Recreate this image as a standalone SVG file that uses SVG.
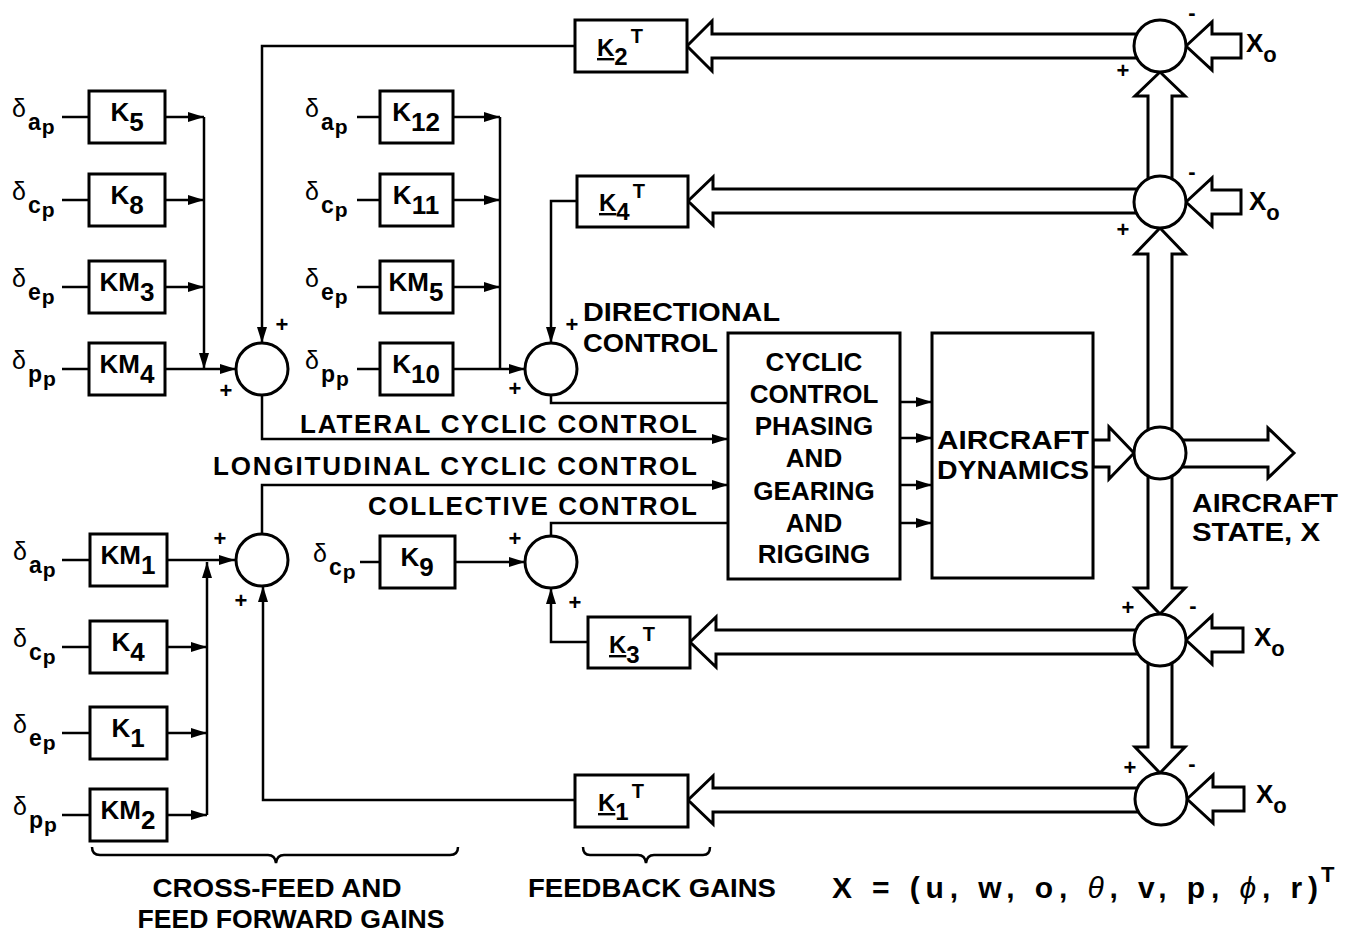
<svg xmlns="http://www.w3.org/2000/svg" width="1355" height="934" viewBox="0 0 1355 934">
<defs>
<marker id="ah" viewBox="0 0 16 10" refX="16" refY="5" markerWidth="16" markerHeight="10" markerUnits="userSpaceOnUse" orient="auto"><path d="M0,0 L16,5 L0,10 z" fill="#000"/></marker>
<style>
text{font-family:"Liberation Sans",Arial,sans-serif;fill:#000}
.b{font-weight:bold}
.lbl{font-size:26px;font-weight:bold}
.k{font-size:26px;font-weight:bold;text-anchor:middle}
.kt{font-size:24px;font-weight:bold}
.d{font-size:25px}
.sg{font-size:22px;font-weight:bold;text-anchor:middle}
.box{fill:#fff;stroke:#000;stroke-width:3}
.sum{fill:#fff;stroke:#000;stroke-width:3}
.ln{fill:none;stroke:#000;stroke-width:2.5}
.ar{fill:none;stroke:#000;stroke-width:2.5;marker-end:url(#ah)}
.fat{fill:#fff;stroke:#000;stroke-width:3;stroke-linejoin:miter}
.u{text-decoration:underline}
</style>
</defs>
<rect width="1355" height="934" fill="#fff"/>

<g id="connectors">
<path class="ln" d="M62,117H89M62,200H89M62,287H89M62,369H89"/>
<path class="ln" d="M357,117H380M357,200H380M357,287H380M357,369H380"/>
<path class="ln" d="M62,560H90M62,647H90M62,733H90M62,815H90"/>
<path class="ln" d="M360,562H380"/>
<path class="ar" d="M165,117H204"/>
<path class="ar" d="M165,200H204"/>
<path class="ar" d="M165,287H204"/>
<path class="ar" d="M204,117V369"/>
<path class="ar" d="M165,369H236"/>
<path class="ar" d="M453,117H500"/>
<path class="ar" d="M453,200H500"/>
<path class="ar" d="M453,287H500"/>
<path class="ln" d="M500,117V369"/>
<path class="ar" d="M453,369H525"/>
<path class="ar" d="M575,46H262V343"/>
<path class="ar" d="M577,201H551V343"/>
<path class="ln" d="M551,395V403H728"/>
<path class="ar" d="M262,395V439H728"/>
<path class="ar" d="M262,534V485H728"/>
<path class="ln" d="M551,536V523H728"/>
<path class="ar" d="M900,402H932"/>
<path class="ar" d="M900,438H932"/>
<path class="ar" d="M900,485H932"/>
<path class="ar" d="M900,523H932"/>
<path class="ar" d="M167,560H235"/>
<path class="ar" d="M167,647H207"/>
<path class="ar" d="M167,733H207"/>
<path class="ar" d="M167,815H207"/>
<path class="ar" d="M207,815V562"/>
<path class="ar" d="M455,562H525"/>
<path class="ar" d="M588,642H551V588"/>
<path class="ar" d="M575,800H263V586"/>
<polygon class="fat" points="687,46 712,21 712,34 1160,34 1160,58 712,58 712,71"/>
<polygon class="fat" points="688,201 713,177 713,189 1160,189 1160,213 713,213 713,225"/>
<polygon class="fat" points="690,642 716,617 716,630 1160,630 1160,654 716,654 716,667"/>
<polygon class="fat" points="688,800 713,776 713,788 1160,788 1160,812 713,812 713,824"/>
<polygon class="fat" points="1160,72 1185,96 1172,96 1172,202 1148,202 1148,96 1135,96"/>
<polygon class="fat" points="1160,228 1185,254 1172,254 1172,453 1148,453 1148,254 1135,254"/>
<polygon class="fat" points="1160,614 1185,588 1172,588 1172,453 1148,453 1148,588 1135,588"/>
<polygon class="fat" points="1160,773 1185,747 1172,747 1172,640 1148,640 1148,747 1135,747"/>
<polygon class="fat" points="1134,453 1109,427 1109,440 1093,440 1093,467 1109,467 1109,479"/>
<polygon class="fat" points="1294,453 1268,428 1268,440 1160,440 1160,467 1268,467 1268,478"/>
<polygon class="fat" points="1186,46 1212,22 1212,34 1241,34 1241,58 1212,58 1212,70"/>
<polygon class="fat" points="1186,202 1212,178 1212,190 1241,190 1241,214 1212,214 1212,226"/>
<polygon class="fat" points="1186,640 1212,616 1212,628 1243,628 1243,652 1212,652 1212,664"/>
<polygon class="fat" points="1187,799 1213,775 1213,787 1244,787 1244,811 1213,811 1213,823"/>
</g>

<g id="K5"><rect class="box" x="89" y="91" width="76" height="52"/><text class="k" x="127" y="121">K<tspan dy="10">5</tspan></text></g>
<g id="K8"><rect class="box" x="89" y="174" width="76" height="52"/><text class="k" x="127" y="204">K<tspan dy="10">8</tspan></text></g>
<g id="KM3"><rect class="box" x="89" y="261" width="76" height="52"/><text class="k" x="127" y="291">KM<tspan dy="10">3</tspan></text></g>
<g id="KM4"><rect class="box" x="89" y="343" width="76" height="52"/><text class="k" x="127" y="373">KM<tspan dy="10">4</tspan></text></g>
<g id="K12"><rect class="box" x="380" y="91" width="73" height="52"/><text class="k" x="416" y="121">K<tspan dy="10">12</tspan></text></g>
<g id="K11"><rect class="box" x="380" y="174" width="73" height="52"/><text class="k" x="416" y="204">K<tspan dy="10">11</tspan></text></g>
<g id="KM5"><rect class="box" x="380" y="261" width="73" height="52"/><text class="k" x="416" y="291">KM<tspan dy="10">5</tspan></text></g>
<g id="K10"><rect class="box" x="380" y="343" width="73" height="52"/><text class="k" x="416" y="373">K<tspan dy="10">10</tspan></text></g>
<g id="KM1"><rect class="box" x="90" y="534" width="77" height="52"/><text class="k" x="128" y="564">KM<tspan dy="10">1</tspan></text></g>
<g id="K4"><rect class="box" x="90" y="621" width="77" height="52"/><text class="k" x="128" y="651">K<tspan dy="10">4</tspan></text></g>
<g id="K1"><rect class="box" x="90" y="707" width="77" height="52"/><text class="k" x="128" y="737">K<tspan dy="10">1</tspan></text></g>
<g id="KM2"><rect class="box" x="90" y="789" width="77" height="52"/><text class="k" x="128" y="819">KM<tspan dy="10">2</tspan></text></g>
<g id="K9"><rect class="box" x="380" y="536" width="75" height="52"/><text class="k" x="417" y="566">K<tspan dy="10">9</tspan></text></g>

<g id="K2T"><rect class="box" x="575" y="20" width="112" height="52"/><text class="kt" x="597" y="56"><tspan class="u">K</tspan><tspan dy="9">2</tspan><tspan dy="-22" dx="3" font-size="20">T</tspan></text></g>
<g id="K4T"><rect class="box" x="577" y="176" width="111" height="51"/><text class="kt" x="599" y="211"><tspan class="u">K</tspan><tspan dy="9">4</tspan><tspan dy="-22" dx="3" font-size="20">T</tspan></text></g>
<g id="K3T"><rect class="box" x="588" y="617" width="102" height="51"/><text class="kt" x="609" y="653"><tspan class="u">K</tspan><tspan dy="10">3</tspan><tspan dy="-22" dx="3" font-size="20">T</tspan></text></g>
<g id="K1T"><rect class="box" x="575" y="775" width="113" height="52"/><text class="kt" x="598" y="811"><tspan class="u">K</tspan><tspan dy="9">1</tspan><tspan dy="-22" dx="3" font-size="20">T</tspan></text></g>

<g id="S1"><circle class="sum" cx="262" cy="369" r="26"/></g>
<g id="S2"><circle class="sum" cx="551" cy="369" r="26"/></g>
<g id="S3"><circle class="sum" cx="262" cy="560" r="26"/></g>
<g id="S4"><circle class="sum" cx="551" cy="562" r="26"/></g>
<g id="U1"><circle class="sum" cx="1160" cy="46" r="26"/></g>
<g id="U2"><circle class="sum" cx="1160" cy="202" r="26"/></g>
<g id="C"><circle class="sum" cx="1160" cy="453" r="26"/></g>
<g id="D1"><circle class="sum" cx="1160" cy="640" r="26"/></g>
<g id="D2"><circle class="sum" cx="1161" cy="799" r="26"/></g>

<g id="CCP"><rect class="box" x="728" y="333" width="172" height="246"/>
<text class="lbl" text-anchor="middle" x="814" y="371">CYCLIC</text>
<text class="lbl" text-anchor="middle" x="814" y="403">CONTROL</text>
<text class="lbl" text-anchor="middle" x="814" y="435">PHASING</text>
<text class="lbl" text-anchor="middle" x="814" y="467">AND</text>
<text class="lbl" text-anchor="middle" x="814" y="500">GEARING</text>
<text class="lbl" text-anchor="middle" x="814" y="532">AND</text>
<text class="lbl" text-anchor="middle" x="814" y="563">RIGGING</text></g>
<g id="AD"><rect class="box" x="932" y="333" width="161" height="245"/>
<text class="lbl" x="937" y="449" textLength="152" lengthAdjust="spacingAndGlyphs">AIRCRAFT</text>
<text class="lbl" x="937" y="479" textLength="152" lengthAdjust="spacingAndGlyphs">DYNAMICS</text></g>

<g id="inputs">
<text class="d" x="12" y="117">δ<tspan class="b" font-size="23" dx="2" dy="13">a</tspan><tspan class="b" font-size="21" dx="1" dy="4">p</tspan></text>
<text class="d" x="12" y="200">δ<tspan class="b" font-size="23" dx="2" dy="13">c</tspan><tspan class="b" font-size="21" dx="1" dy="4">p</tspan></text>
<text class="d" x="12" y="287">δ<tspan class="b" font-size="23" dx="2" dy="13">e</tspan><tspan class="b" font-size="21" dx="1" dy="4">p</tspan></text>
<text class="d" x="12" y="369">δ<tspan class="b" font-size="23" dx="2" dy="13">p</tspan><tspan class="b" font-size="21" dx="1" dy="4">p</tspan></text>
<text class="d" x="305" y="117">δ<tspan class="b" font-size="23" dx="2" dy="13">a</tspan><tspan class="b" font-size="21" dx="1" dy="4">p</tspan></text>
<text class="d" x="305" y="200">δ<tspan class="b" font-size="23" dx="2" dy="13">c</tspan><tspan class="b" font-size="21" dx="1" dy="4">p</tspan></text>
<text class="d" x="305" y="287">δ<tspan class="b" font-size="23" dx="2" dy="13">e</tspan><tspan class="b" font-size="21" dx="1" dy="4">p</tspan></text>
<text class="d" x="305" y="369">δ<tspan class="b" font-size="23" dx="2" dy="13">p</tspan><tspan class="b" font-size="21" dx="1" dy="4">p</tspan></text>
<text class="d" x="13" y="560">δ<tspan class="b" font-size="23" dx="2" dy="13">a</tspan><tspan class="b" font-size="21" dx="1" dy="4">p</tspan></text>
<text class="d" x="13" y="647">δ<tspan class="b" font-size="23" dx="2" dy="13">c</tspan><tspan class="b" font-size="21" dx="1" dy="4">p</tspan></text>
<text class="d" x="13" y="733">δ<tspan class="b" font-size="23" dx="2" dy="13">e</tspan><tspan class="b" font-size="21" dx="1" dy="4">p</tspan></text>
<text class="d" x="13" y="815">δ<tspan class="b" font-size="23" dx="2" dy="13">p</tspan><tspan class="b" font-size="21" dx="1" dy="4">p</tspan></text>
<text class="d" x="313" y="562">δ<tspan class="b" font-size="23" dx="2" dy="13">c</tspan><tspan class="b" font-size="21" dx="1" dy="4">p</tspan></text>
</g>

<g id="signs">
<text class="sg" x="282" y="332">+</text><text class="sg" x="226" y="398">+</text>
<text class="sg" x="572" y="332">+</text><text class="sg" x="515" y="396">+</text>
<text class="sg" x="220" y="546">+</text><text class="sg" x="241" y="608">+</text>
<text class="sg" x="515" y="546">+</text><text class="sg" x="575" y="610">+</text>
<text class="sg" x="1192" y="20" font-size="18">-</text><text class="sg" x="1123" y="78">+</text>
<text class="sg" x="1192" y="179">-</text><text class="sg" x="1123" y="237">+</text>
<text class="sg" x="1128" y="615">+</text><text class="sg" x="1193" y="613">-</text>
<text class="sg" x="1130" y="775">+</text><text class="sg" x="1192" y="771">-</text>
</g>

<g id="xo">
<text class="lbl" x="1246" y="52">X<tspan font-size="22" dy="10">o</tspan></text>
<text class="lbl" x="1249" y="210">X<tspan font-size="22" dy="10">o</tspan></text>
<text class="lbl" x="1254" y="646">X<tspan font-size="22" dy="10">o</tspan></text>
<text class="lbl" x="1256" y="803">X<tspan font-size="22" dy="10">o</tspan></text>
</g>

<g id="labels">
<text class="lbl" x="583" y="321" textLength="197" lengthAdjust="spacingAndGlyphs">DIRECTIONAL</text>
<text class="lbl" x="583" y="352" textLength="135" lengthAdjust="spacingAndGlyphs">CONTROL</text>
<text class="lbl" x="300" y="433" textLength="397" lengthAdjust="spacing">LATERAL CYCLIC CONTROL</text>
<text class="lbl" x="213" y="475" textLength="484" lengthAdjust="spacing">LONGITUDINAL CYCLIC CONTROL</text>
<text class="lbl" x="368" y="515" textLength="329" lengthAdjust="spacing">COLLECTIVE CONTROL</text>
<text class="lbl" x="1192" y="512" textLength="146" lengthAdjust="spacingAndGlyphs">AIRCRAFT</text>
<text class="lbl" x="1192" y="541" textLength="128" lengthAdjust="spacingAndGlyphs">STATE, X</text>
</g>

<g id="captions">
<path class="ln" d="M92,847Q92,855 100,855L268,855Q275,855 276,863Q277,855 284,855L450,855Q458,855 458,847"/>
<path class="ln" d="M583,847Q583,855 590,855L638,855Q645,855 646,863Q647,855 654,855L703,855Q710,855 710,847"/>
<text class="lbl" x="277" y="897" text-anchor="middle" textLength="249" lengthAdjust="spacingAndGlyphs">CROSS-FEED AND</text>
<text class="lbl" x="291" y="928" text-anchor="middle" textLength="307" lengthAdjust="spacingAndGlyphs">FEED FORWARD GAINS</text>
<text class="lbl" x="528" y="897" textLength="248" lengthAdjust="spacingAndGlyphs">FEEDBACK GAINS</text>
<text class="b" font-size="30" x="832" y="898" textLength="486" lengthAdjust="spacing">X = (u, w, o, <tspan font-style="italic" font-weight="normal">θ</tspan>, v, p, <tspan font-style="italic" font-weight="normal">ϕ</tspan>, r)</text>
<text class="b" font-size="22" x="1321" y="882">T</text>
</g>
</svg>
